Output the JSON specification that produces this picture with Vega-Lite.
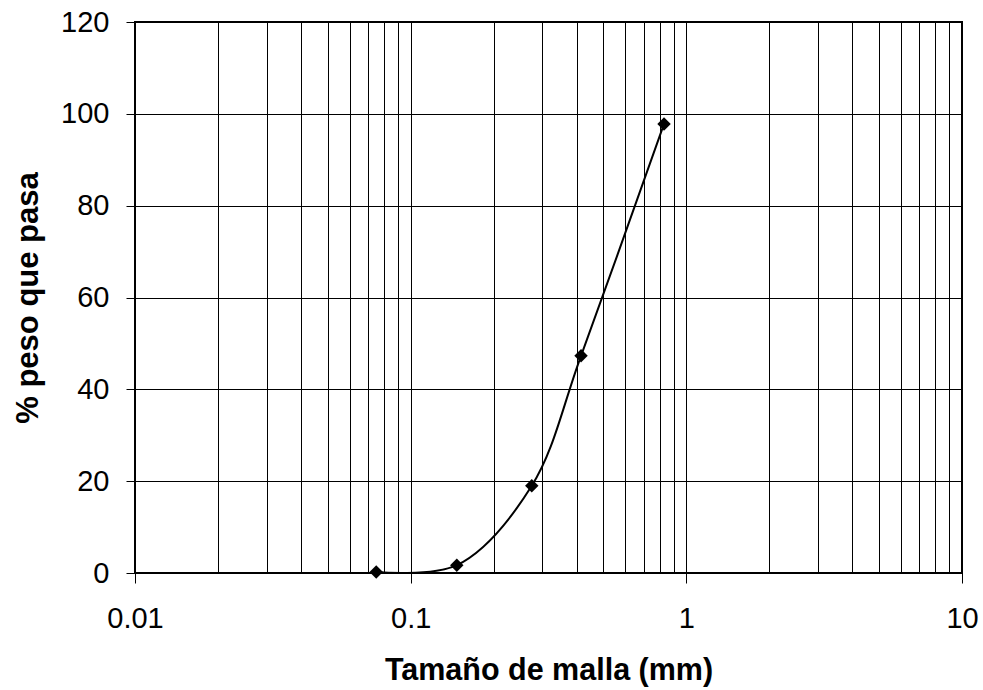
{
  "$schema": "https://vega.github.io/schema/vega-lite/v6.json",
  "width": 827,
  "height": 551,
  "autosize": "none",
  "padding": {"left": 135, "top": 22, "right": 21, "bottom": 117},
  "background": "white",
  "config": {
    "font": "Liberation Sans",
    "view": {"stroke": "black", "strokeWidth": 2}
  },
  "data": {"values": [
    {"size": 0.075, "pasa": 0.2},
    {"size": 0.147, "pasa": 1.7},
    {"size": 0.275, "pasa": 19.0},
    {"size": 0.415, "pasa": 47.3},
    {"size": 0.83, "pasa": 97.8}
  ]},
  "encoding": {
    "x": {"field": "size", "type": "quantitative",
      "scale": {"type": "log", "domain": [0.01, 10], "nice": false},
      "axis": {"title": "Tamaño de malla (mm)", "titlePadding": 22, "format": "~g", "labelPadding": 21,
        "domain": false, "grid": true, "gridColor": "black", "gridOpacity": 1, "gridWidth": 1,
        "labelFontSize": 29, "labelColor": "black", "titleFontSize": 30.5, "titleFontWeight": "bold", "titleColor": "black", "tickColor": "black",
        "values": [0.01,0.02,0.03,0.04,0.05,0.06,0.07,0.08,0.09,0.1,0.2,0.3,0.4,0.5,0.6,0.7,0.8,0.9,1,2,3,4,5,6,7,8,9,10],
        "labelExpr": "abs(log(datum.value)/LN10 - round(log(datum.value)/LN10)) < 1e-6 ? datum.label : ''",
        "tickOpacity": {"condition": {"test": "abs(log(datum.value)/LN10 - round(log(datum.value)/LN10)) < 1e-6", "value": 1}, "value": 0},
        "tickSize": 10, "labelFlush": false, "labelOverlap": false}},
    "y": {"field": "pasa", "type": "quantitative",
      "scale": {"domain": [0, 120], "nice": false, "zero": false},
      "axis": {"title": "% peso que pasa", "values": [0,20,40,60,80,100,120], "tickSize": 9, "labelPadding": 17, "titlePadding": 16,
        "domain": false, "grid": true, "gridColor": "black", "gridOpacity": 1, "gridWidth": 1,
        "labelFontSize": 29, "labelColor": "black", "titleFontSize": 31, "titleFontWeight": "bold", "titleColor": "black", "tickColor": "black"}}
  },
  "layer": [
    {"mark": {"type": "line", "interpolate": "catmull-rom", "color": "black", "strokeWidth": 2, "clip": true}},
    {"mark": {"type": "point", "shape": "diamond", "filled": true, "color": "black", "opacity": 1, "size": 180}}
  ]
}
